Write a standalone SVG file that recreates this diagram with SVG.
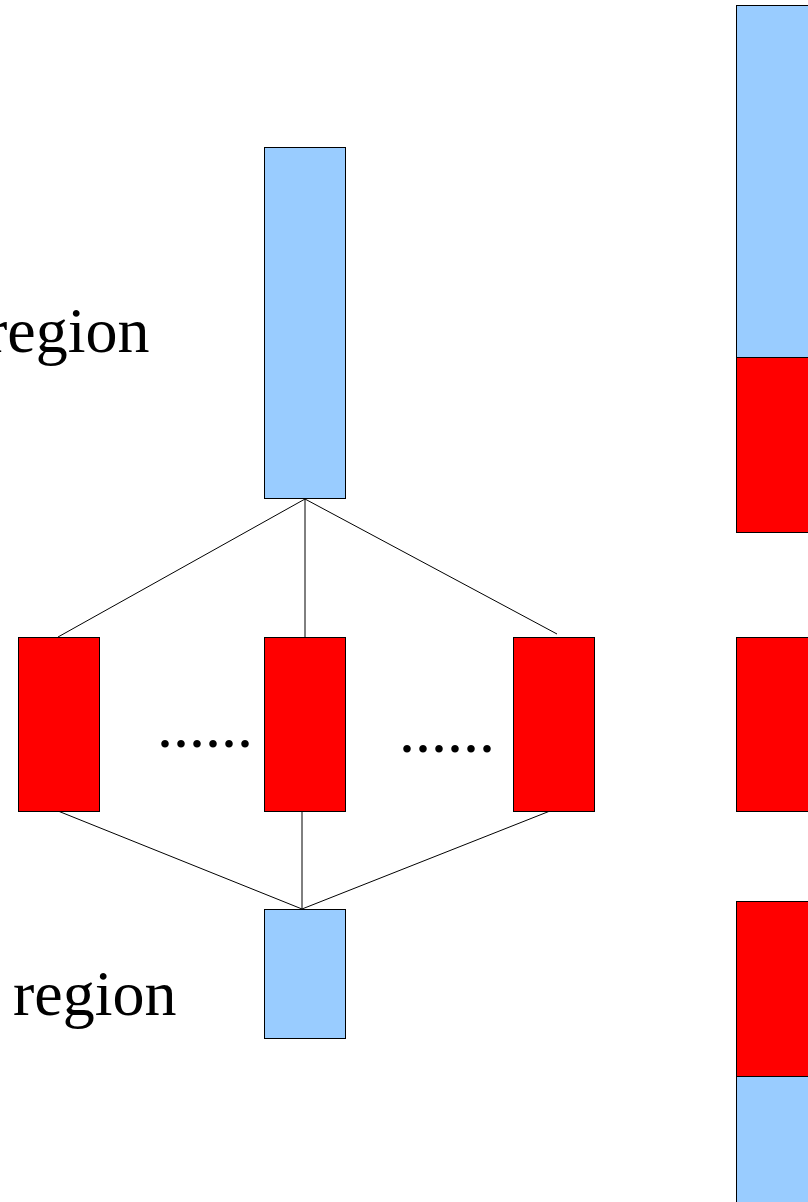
<svg xmlns="http://www.w3.org/2000/svg" width="808" height="1202" viewBox="0 0 808 1202">
  <style>
    .blue { fill: #99ccff; stroke: #000; stroke-width: 1; }
    .red { fill: #ff0000; stroke: #000; stroke-width: 1; }
    .link { stroke: #000; stroke-width: 1; fill: none; }
    .lbl { font-family: "Liberation Serif", "Times New Roman", serif; font-size: 64px; fill: #000; }
  </style>
  <rect width="808" height="1202" fill="#fff"/>

  <g id="connectors">
    <line class="link" x1="305" y1="499" x2="58" y2="637"/>
    <line class="link" x1="305" y1="499" x2="305" y2="637"/>
    <line class="link" x1="305" y1="499" x2="557" y2="634"/>
    <line class="link" x1="58" y1="811" x2="302" y2="909"/>
    <line class="link" x1="302" y1="811" x2="302" y2="909"/>
    <line class="link" x1="550" y1="811" x2="302" y2="909"/>
  </g>

  <g id="top-block"><rect class="blue" x="264.5" y="147.5" width="81" height="351"/></g>
  <g id="mid-left"><rect class="red" x="18.5" y="637.5" width="81" height="174"/></g>
  <g id="mid-center"><rect class="red" x="264.5" y="637.5" width="81" height="174"/></g>
  <g id="mid-right"><rect class="red" x="513.5" y="637.5" width="81" height="174"/></g>
  <g id="bottom-block"><rect class="blue" x="264.5" y="909.5" width="81" height="129"/></g>

  <g id="right-top">
    <rect class="blue" x="736.5" y="5.5" width="90" height="352"/>
    <rect class="red" x="736.5" y="357.5" width="90" height="175"/>
  </g>
  <g id="right-mid"><rect class="red" x="736.5" y="637.5" width="90" height="174"/></g>
  <g id="right-bottom">
    <rect class="red" x="736.5" y="901.5" width="90" height="175"/>
    <rect class="blue" x="736.5" y="1076.5" width="90" height="140"/>
  </g>

  <g id="labels">
    <text class="lbl" x="-14" y="352">region</text>
    <text class="lbl" x="13" y="1015">region</text>
    <text class="lbl" x="157" y="747">......</text>
    <text class="lbl" x="399" y="752">......</text>
  </g>
</svg>
